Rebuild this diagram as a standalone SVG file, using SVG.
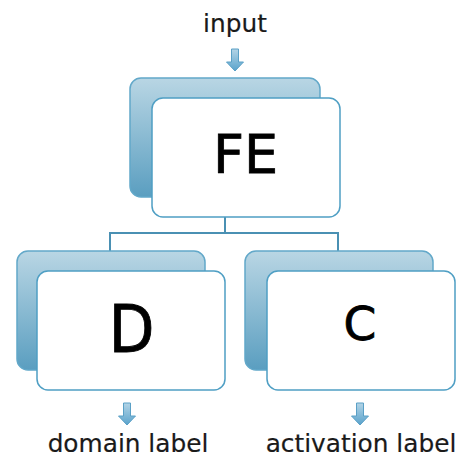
<svg xmlns="http://www.w3.org/2000/svg" width="461" height="462" viewBox="0 0 461 462">
  <defs>
    <linearGradient id="backGrad" x1="0" y1="0" x2="0" y2="1">
      <stop offset="0" stop-color="#b9d6e4"/>
      <stop offset="1" stop-color="#5a9ec0"/>
    </linearGradient>
    <linearGradient id="arrowGrad" x1="0" y1="0" x2="0" y2="1">
      <stop offset="0" stop-color="#b3d4e6"/>
      <stop offset="1" stop-color="#5aa3cc"/>
    </linearGradient>
    <path id="arrow" d="M-3.5,0 H3.5 V13 H8.5 L0,22 L-8.5,13 H-3.5 Z"/>
  </defs>
  <style>
    .back { fill: url(#backGrad); stroke: #62a8c9; stroke-width: 1.5; }
    .front { fill: #ffffff; stroke: #4f9fc4; stroke-width: 1.5; }
    .conn { fill: none; stroke: #4a90b3; stroke-width: 2; }
    .arr { fill: url(#arrowGrad); stroke: #5aa0c6; stroke-width: 1; }
    .lbl { font-family: "DejaVu Sans", Verdana, sans-serif; font-size: 24.8px; fill: #1a1a1a; text-anchor: middle; stroke: #1a1a1a; stroke-width: 0.2; }
    .big { font-family: "DejaVu Sans", Verdana, sans-serif; fill: #000000; stroke: #000000; stroke-width: 0.8; text-anchor: middle; }
  </style>

  <g id="connectors">
    <path class="conn" d="M225,217 V233 M110,233 H339 M110,232 V251 M338,232 V251"/>
    <use href="#arrow" class="arr" transform="translate(235,49)"/>
    <use href="#arrow" class="arr" transform="translate(127,403)"/>
    <use href="#arrow" class="arr" transform="translate(360,403)"/>
  </g>

  <g id="input-label">
    <text class="lbl" x="235" y="32" font-size="25">input</text>
  </g>

  <g id="node-FE">
    <rect class="back" x="130" y="78" width="190" height="119" rx="11"/>
    <rect class="front" x="152" y="98" width="188" height="119" rx="11"/>
    <text class="big" x="245.5" y="173" font-size="54">FE</text>
  </g>

  <g id="node-D">
    <rect class="back" x="17" y="251" width="188" height="119" rx="11"/>
    <rect class="front" x="37" y="271" width="188" height="119" rx="11"/>
    <text class="big" x="131.5" y="352" font-size="66" style="font-family:'DejaVu Sans Condensed','DejaVu Sans',sans-serif">D</text>
  </g>

  <g id="node-C">
    <rect class="back" x="245" y="251" width="188" height="119" rx="11"/>
    <rect class="front" x="267" y="271" width="188" height="119" rx="11"/>
    <text class="big" x="360" y="340" font-size="47">C</text>
  </g>

  <g id="domain-label">
    <text class="lbl" x="128" y="452">domain label</text>
  </g>
  <g id="activation-label">
    <text class="lbl" x="361" y="452">activation label</text>
  </g>
</svg>
